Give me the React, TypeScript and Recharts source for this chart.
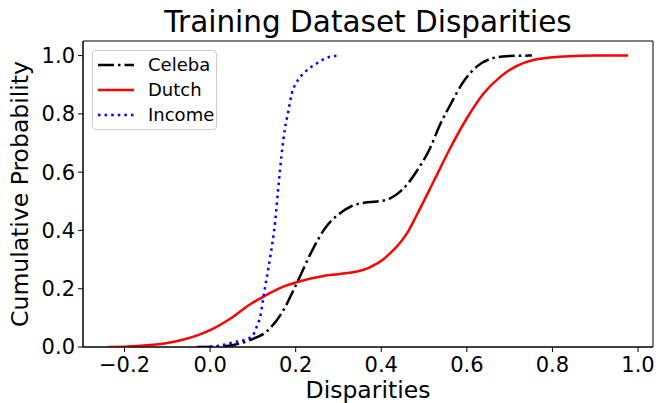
import React from 'react';
import { LineChart, Line, XAxis, YAxis, Legend, ReferenceArea } from 'recharts';

// [disparity, cumulative probability]
const celebaPts = [
  [-0.031, 0], [0.02, 0.002], [0.054, 0.007], [0.093, 0.024], [0.132, 0.053],
  [0.168, 0.118], [0.203, 0.22], [0.234, 0.318], [0.27, 0.41], [0.3, 0.455],
  [0.33, 0.483], [0.36, 0.495], [0.39, 0.499], [0.421, 0.51], [0.444, 0.533],
  [0.467, 0.57], [0.483, 0.604], [0.514, 0.682], [0.537, 0.762], [0.561, 0.83],
  [0.592, 0.91], [0.623, 0.962], [0.654, 0.988], [0.693, 0.998], [0.752, 1.0],
];

const dutchPts = [
  [-0.238, 0], [-0.19, 0.002], [-0.14, 0.007], [-0.1, 0.014], [-0.062, 0.026],
  [-0.03, 0.04], [0, 0.058], [0.054, 0.104], [0.093, 0.146], [0.125, 0.173],
  [0.171, 0.207], [0.206, 0.224], [0.265, 0.244], [0.3, 0.25], [0.343, 0.259],
  [0.365, 0.268], [0.382, 0.28], [0.402, 0.298], [0.421, 0.322], [0.444, 0.358],
  [0.463, 0.397], [0.483, 0.453], [0.522, 0.567], [0.561, 0.682], [0.6, 0.785],
  [0.639, 0.87], [0.678, 0.927], [0.717, 0.965], [0.755, 0.985], [0.794, 0.993],
  [0.84, 0.998], [0.9, 1.0], [0.977, 1.0],
];

const incomePts = [
  [-0.016, 0], [0.02, 0.004], [0.054, 0.016], [0.086, 0.027], [0.1, 0.04],
  [0.109, 0.07], [0.118, 0.11], [0.125, 0.175], [0.14, 0.304], [0.152, 0.43],
  [0.16, 0.556], [0.167, 0.659], [0.175, 0.75], [0.183, 0.81], [0.191, 0.87],
  [0.203, 0.91], [0.222, 0.944], [0.249, 0.973], [0.276, 0.994], [0.3, 1.0],
];

const xTicks = [-0.2, 0, 0.2, 0.4, 0.6, 0.8, 1.0];
const yTicks = [0, 0.2, 0.4, 0.6, 0.8, 1.0];

const X_DOMAIN = [-0.297, 1.035];
const Y_DOMAIN = [0, 1.05];

const toRows = (pts: number[][]) => pts.map(([x, y]) => ({ x, y }));

const series = [
  { name: 'Celeba', data: toRows(celebaPts), color: '#000000', dash: '16 4 2.5 4' },
  { name: 'Dutch', data: toRows(dutchPts), color: '#ff0000', dash: undefined },
  { name: 'Income', data: toRows(incomePts), color: '#0000ff', dash: '2.5 4.1' },
];

const FONT = '"DejaVu Sans", sans-serif';
const TICK_SIZE = 21;
const LABEL_SIZE = 23.5;

const fmt = (v: number) => (v < 0 ? '\u2212' + Math.abs(v).toFixed(1) : v.toFixed(1));

const LegendBox = () => (
  <div
    style={{
      width: 125,
      height: 80,
      border: '1px solid #cccccc',
      borderRadius: 4,
      background: 'rgba(255,255,255,0.8)',
      fontFamily: FONT,
      fontSize: 18,
      boxSizing: 'border-box',
      paddingTop: 1,
    }}
  >
    {series.map((s) => (
      <div key={s.name} style={{ display: 'flex', alignItems: 'center', height: 25 }}>
        <svg width={55} height={10}>
          <line
            x1={5}
            x2={41}
            y1={5}
            y2={5}
            stroke={s.color}
            strokeWidth={2.5}
            strokeDasharray={s.dash}
          />
        </svg>
        <span style={{ color: '#000' }}>{s.name}</span>
      </div>
    ))}
  </div>
);

export default function App() {
  return (
    <div style={{ position: 'absolute', left: 0, top: 0, width: 658, height: 403, background: '#fff' }}>
      <div
        style={{
          position: 'absolute',
          left: 83,
          width: 570,
          top: 7,
          textAlign: 'center',
          fontFamily: FONT,
          fontSize: 29.5,
          lineHeight: '30px',
          color: '#000',
        }}
      >
        Training Dataset Disparities
      </div>
      <LineChart
        width={658}
        height={403}
        margin={{ top: 41, right: 5, bottom: 0, left: 0 }}
        style={{ fontFamily: FONT, fontSize: TICK_SIZE }}
      >
        <XAxis
          dataKey="x"
          type="number"
          domain={X_DOMAIN}
          ticks={xTicks}
          tickFormatter={fmt}
          allowDataOverflow
          height={56}
          tickSize={5}
          tickMargin={5}
          stroke="#000"
          fontSize={TICK_SIZE}
          tick={{ fill: '#000', fontSize: TICK_SIZE }}
          label={{ value: 'Disparities', position: 'insideBottom', offset: 5, fill: '#000', fontSize: LABEL_SIZE }}
        />
        <YAxis
          type="number"
          domain={Y_DOMAIN}
          ticks={yTicks}
          tickFormatter={(v: number) => v.toFixed(1)}
          allowDataOverflow
          width={83}
          tickSize={5}
          tickMargin={3}
          stroke="#000"
          fontSize={TICK_SIZE}
          tick={{ fill: '#000', fontSize: TICK_SIZE }}
          label={{
            value: 'Cumulative Probability',
            angle: -90,
            position: 'insideLeft',
            offset: 20,
            fill: '#000',
            fontSize: LABEL_SIZE,
            style: { textAnchor: 'middle' },
          }}
        />
        <ReferenceArea
          x1={X_DOMAIN[0]}
          x2={X_DOMAIN[1]}
          y1={Y_DOMAIN[0]}
          y2={Y_DOMAIN[1]}
          fill="none"
          stroke="#000"
          strokeWidth={1}
        />
        {series.map((s) => (
          <Line
            key={s.name}
            name={s.name}
            data={s.data}
            dataKey="y"
            type="monotone"
            stroke={s.color}
            strokeWidth={2.5}
            strokeDasharray={s.dash}
            dot={false}
            activeDot={false}
            isAnimationActive={false}
          />
        ))}
        <Legend
          layout="horizontal"
          verticalAlign="middle"
          align="center"
          content={() => <LegendBox />}
          wrapperStyle={{ left: 92, top: 50, width: 125, height: 80 }}
        />
      </LineChart>
    </div>
  );
}
